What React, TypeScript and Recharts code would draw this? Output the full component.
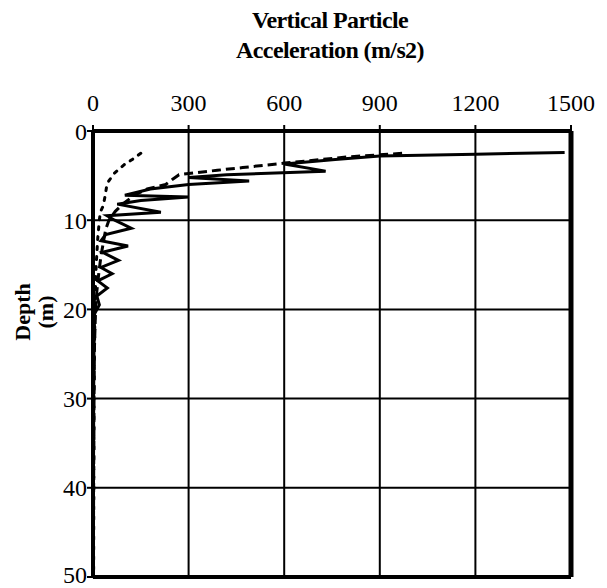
import { LineChart, Line, XAxis, YAxis, CartesianGrid, ReferenceLine } from 'recharts';

// acceleration ticks (m/s2) and depth ticks (m)
const accTicks = [0, 300, 600, 900, 1200, 1500];
const depthTicks = [0, 10, 20, 30, 40, 50];

// solid curve
const solidDepth = [2.4, 2.6, 2.8, 3.2, 3.7, 4.5, 4.9, 5.2, 5.6, 6.0, 6.5, 7.2, 7.4, 7.8, 8.2, 9.1, 9.5, 10.0, 10.9, 11.6, 12.3, 12.9, 13.6, 14.5, 15.3, 16.0, 16.8, 17.6, 18.5, 19.5, 20.5, 25, 30, 35, 40, 45, 50];
const solidAcc = [1480, 1200, 900, 760, 600, 730, 420, 300, 490, 300, 180, 100, 300, 150, 76, 213, 44, 68, 120, 40, 25, 110, 30, 80, 25, 60, 15, 45, 12, 20, 5, 3, 2, 2, 1, 1, 1];

// dashed curve
const dashedDepth = [2.5, 2.9, 3.6, 4.1, 4.4, 4.9, 5.4, 6.0, 6.5, 7.2, 8, 9, 10, 11, 12, 13, 14, 16, 18, 20, 25, 30, 40, 50];
const dashedAcc = [970, 800, 600, 470, 390, 270, 250, 228, 170, 130, 100, 70, 50, 40, 35, 30, 25, 18, 12, 8, 4, 3, 2, 1];

// dotted curve
const dottedDepth = [2.5, 3.2, 3.8, 4.8, 5.9, 7.1, 8.4, 9.1, 10, 12, 15, 20, 30, 50];
const dottedAcc = [150, 123, 97, 65, 44, 39, 32, 23, 20, 15, 10, 6, 3, 2];

const toRows = (depth: number[], acc: number[]) => depth.map((d, i) => ({ depth: d, acc: acc[i] }));

const serif = '"Liberation Serif", "Times New Roman", serif';

export default function App() {
  return (
    <div style={{ position: 'absolute', left: 0, top: 0, width: 607, height: 588, background: '#fff', fontFamily: serif }}>
      <div style={{ position: 'absolute', left: 130, width: 400, top: 5, textAlign: 'center', fontWeight: 'bold', fontSize: 24, lineHeight: '30px', color: '#000', letterSpacing: -0.6 }}>
        Vertical Particle<br />Acceleration (m/s2)
      </div>
      <div style={{ position: 'absolute', left: 34, top: 312, transform: 'translate(-50%, -50%) rotate(-90deg)', fontWeight: 'bold', fontSize: 22, lineHeight: '23px', textAlign: 'center', color: '#000', whiteSpace: 'nowrap' }}>
        Depth<br />(m)
      </div>
      <LineChart
        width={607}
        height={588}
        layout="vertical"
        margin={{ top: 91, right: 36, bottom: 11, left: 33 }}
        style={{ position: 'absolute', left: 0, top: 0 }}
      >
        <CartesianGrid stroke="#000" strokeWidth={2} />
        <XAxis
          type="number"
          dataKey="acc"
          orientation="top"
          domain={[0, 1500]}
          ticks={accTicks}
          height={40}
          axisLine={{ stroke: '#000', strokeWidth: 4 }}
          tickLine={{ stroke: '#000', strokeWidth: 2 }}
          tickSize={6}
          tickMargin={14}
          tick={{ fill: '#000', fontSize: 24, fontFamily: serif }}
        />
        <YAxis
          type="number"
          dataKey="depth"
          domain={[0, 50]}
          ticks={depthTicks}
          width={60}
          axisLine={{ stroke: '#000', strokeWidth: 4 }}
          tickLine={{ stroke: '#000', strokeWidth: 2 }}
          tickSize={6}
          tickMargin={0}
          tick={{ fill: '#000', fontSize: 24, fontFamily: serif }}
        />
        <ReferenceLine x={1500} stroke="#000" strokeWidth={5} />
        <ReferenceLine y={50} stroke="#000" strokeWidth={4} />
        <ReferenceLine y={0} stroke="#000" strokeWidth={4} />
        <Line data={toRows(dottedDepth, dottedAcc)} dataKey="acc" type="linear" stroke="#000" strokeWidth={3} strokeDasharray="3 7" strokeLinecap="round" dot={false} isAnimationActive={false} />
        <Line data={toRows(dashedDepth, dashedAcc)} dataKey="acc" type="linear" stroke="#000" strokeWidth={3} strokeDasharray="9 5" dot={false} isAnimationActive={false} />
        <Line data={toRows(solidDepth, solidAcc)} dataKey="acc" type="linear" stroke="#000" strokeWidth={3} dot={false} isAnimationActive={false} />
      </LineChart>
    </div>
  );
}
